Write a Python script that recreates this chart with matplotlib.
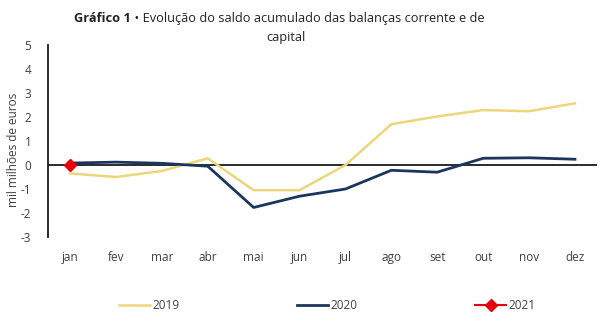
import numpy as np
import matplotlib.pyplot as plt

plt.rcParams['font.family'] = ['Open Sans', 'DejaVu Sans']
plt.rcParams['axes.unicode_minus'] = False

# saldo acumulado, mil milhões de euros
meses = ['jan', 'fev', 'mar', 'abr', 'mai', 'jun', 'jul', 'ago', 'set', 'out', 'nov', 'dez']
s2019 = [-0.35, -0.5, -0.25, 0.28, -1.05, -1.05, 0.0, 1.7, 2.02, 2.29, 2.24, 2.57]
s2020 = [0.08, 0.12, 0.07, -0.05, -1.77, -1.3, -1.0, -0.22, -0.3, 0.28, 0.3, 0.24]
s2021 = [0.0]

fig = plt.figure(figsize=(6.05, 3.22), dpi=100)
ax = fig.add_axes([48/605, 1-237/322, (597-48)/605, (237-45)/322])

x = np.arange(len(meses))
ax.axhline(0, color='#1a1a1a', lw=1.3, zorder=1)
ax.plot(x, s2019, color='#EDD67A', lw=1.8, label='2019', zorder=2)
ax.plot(x, s2020, color='#1B365D', lw=2.0, label='2020', zorder=3)
ax.plot(x[:len(s2021)], s2021, color='#E8000B', marker='D', markersize=6,
        lw=1.5, label='2021', zorder=4)

ax.set_xlim(-0.48, 11.48)
ax.set_ylim(-3, 5)
ax.set_yticks(range(-3, 6))
ax.set_xticks(x)
ax.set_xticklabels(meses)
for s in ['top', 'right', 'bottom']:
    ax.spines[s].set_visible(False)
ax.spines['left'].set_color('#1a1a1a')
ax.spines['left'].set_linewidth(1.3)
ax.tick_params(axis='x', length=0, pad=10, labelsize=8.5, labelcolor='#404040')
ax.tick_params(axis='y', length=0, pad=12, labelsize=8.5, labelcolor='#404040')
fig.text(14/605, 1-150/322, 'mil milhões de euros', rotation=90, fontsize=8.5,
         color='#404040', ha='center', va='center')

# título: parte em negrito seguida do texto normal
t1 = fig.text(74/605, 0.943, 'Gráfico 1', fontsize=9.2, fontweight='bold',
              ha='left', va='center', color='#222222')
fig.canvas.draw()
bb = t1.get_window_extent()
fig.text(bb.x1/605, 0.943, ' • Evolução do saldo acumulado das balanças corrente e de',
         fontsize=9.2, ha='left', va='center', color='#222222')
fig.text(286/605, 0.882, 'capital', fontsize=9.2, ha='center', va='center', color='#222222')

fig.legend(loc='center', bbox_to_anchor=(0.541, 0.05), ncol=3, frameon=False,
           fontsize=8.5, handlelength=2.6, handletextpad=0.2, columnspacing=10.0,
           labelcolor='#404040')

fig.savefig('out.png', dpi=100)
